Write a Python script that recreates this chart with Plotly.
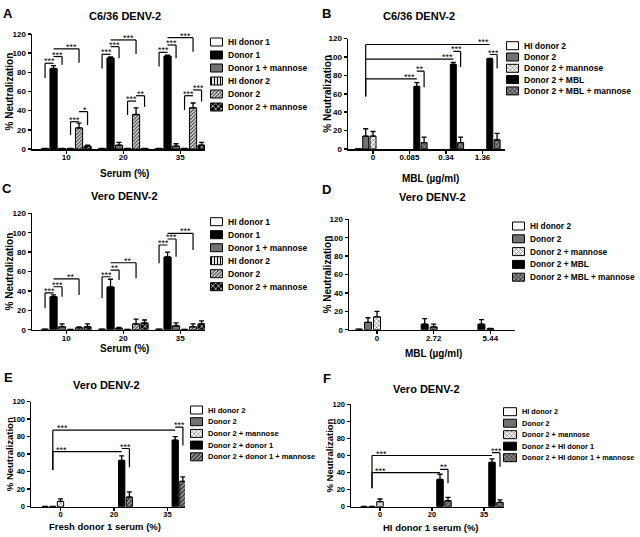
import plotly.graph_objects as go

W, H = 640, 537
FONT = "Liberation Sans, Arial, Helvetica, sans-serif"

# ---------------- data ----------------
Y_TICKS = [0, 20, 40, 60, 80, 100, 120]

A_groups = ["10", "20", "35"]
A_series = ["HI donor 1", "Donor 1", "Donor 1 + mannose", "HI donor 2", "Donor 2", "Donor 2 + mannose"]
A_values = [[0.5, 0.5, 0.5], [84, 95, 97], [0.5, 4, 3], [0.5, 0.5, 0.5], [22, 36, 43], [3, 0.5, 4]]
A_errors = [[None, None, None], [3, 1, 1], [None, 3, 2.5], [None, None, None], [5, 7, 5], [1, None, 3]]
# (group1, bar1, group2, bar2, level, left leg end, right leg end, label, label position)
A_sig = [
    (0, 0, 0, 1, 89.5, 74, None, "***", 0.5), (0, 1, 0, 2, 96.5, None, 88, "***", 0.5),
    (0, 1, 0, 4, 104.5, None, 90, "***", 0.7), (0, 3, 0, 4, 28.5, 14.5, None, "***", 0.5),
    (0, 4, 0, 5, 39, None, 25, "*", 0.75),
    (1, 0, 1, 1, 98.8, 84, None, "***", 0.5), (1, 1, 1, 2, 106.8, None, 94.6, "***", 0.5),
    (1, 1, 1, 4, 113.8, None, 99, "***", 0.7), (1, 3, 1, 4, 50, 35.5, None, "***", 0.5),
    (1, 4, 1, 5, 55.6, None, 44, "**", 0.6),
    (2, 0, 2, 1, 100.9, 86, None, "***", 0.5), (2, 1, 2, 2, 108.5, None, 94.6, "***", 0.5),
    (2, 1, 2, 4, 116.2, None, 101.6, "***", 0.7), (2, 3, 2, 4, 55.6, 40.7, None, "***", 0.5),
    (2, 4, 2, 5, 61.6, None, 49.4, "***", 0.6),
]

B_groups = ["0", "0.085", "0.34", "1.36"]
B_series = ["HI donor 2", "Donor 2", "Donor 2 + mannose", "Donor 2 + MBL", "Donor 2 + MBL + mannose"]
B_values = [[0.5, None, None, None], [14, None, None, None], [14, None, None, None],
            [None, 68, 92, 98], [None, 7, 7, 10]]
B_errors = [[None, None, None, None], [8, None, None, None], [5, None, None, None],
            [None, 4, 2, 0.5], [None, 6, 6, 7]]
B_sig = [
    (0, 1, 1, 3, 76.2, 57, None, "***", 0.85), (0, 1, 2, 3, 97.6, None, None, "***", 0.93),
    (0, 1, 3, 3, 113.5, 57, None, "***", 0.95), (1, 3, 1, 4, 84.5, None, 67, "**", 0.5),
    (2, 3, 2, 4, 106, None, 89, "***", 0.5), (3, 3, 3, 4, 102.6, None, 87.5, "***", 0.5),
]

C_groups = ["10", "20", "35"]
C_series = A_series
C_values = [[0.5, 0.5, 0.5], [34, 44, 75], [3, 1.5, 4], [0.3, 0.3, 0.3], [2, 6, 3], [3, 7, 6]]
C_errors = [[None, None, None], [2, 8, 5], [3, 1, 3], [None, None, None], [1, 5, 3], [3, 3, 3]]
C_sig = [
    (0, 0, 0, 1, 38, 22, None, "***", 0.5), (0, 1, 0, 2, 44.3, None, 34, "***", 0.5),
    (0, 1, 0, 4, 52.3, None, 35.8, "**", 0.7),
    (1, 0, 1, 1, 54.6, 32.3, None, "***", 0.5), (1, 1, 1, 2, 61.5, None, 51.2, "**", 0.5),
    (1, 1, 1, 4, 69, None, 53, "**", 0.7),
    (2, 0, 2, 1, 87.3, 68.4, None, "***", 0.5), (2, 1, 2, 2, 93.5, None, 75.3, "***", 0.5),
    (2, 1, 2, 4, 99.4, None, 82.2, "***", 0.7),
]

D_groups = ["0", "2.72", "5.44"]
D_series = B_series
D_values = [[0.5, None, None], [8, None, None], [14, None, None], [None, 6, 6], [None, 3, 1]]
D_errors = [[None, None, None], [5, None, None], [6, None, None], [None, 6, 5], [None, 3, 0.5]]
D_sig = []

E_groups = ["0", "20", "35"]
E_series = ["HI donor 2", "Donor 2", "Donor 2 + mannose", "Donor 2 + donor 1", "Donor 2 + donor 1 + mannose"]
E_values = [[0.3, None, None], [0.3, None, None], [6, None, None], [None, 53, 76], [None, 11, 29]]
E_errors = [[None, None, None], [None, None, None], [3, None, None], [None, 5, 4], [None, 6, 5]]
E_sig = [
    (0, 1, 1, 3, 63, 42, None, "***", 0.12), (0, 1, 2, 3, 87.5, 42, None, "***", 0.08),
    (1, 3, 1, 4, 66.5, None, 45, "***", 0.5), (2, 3, 2, 4, 91, None, 70, "***", 0.5),
]

F_groups = ["0", "20", "35"]
F_series = ["HI donor 2", "Donor 2", "Donor 2 + mannose", "Donor 2 + HI donor 1", "Donor 2 + HI donor 1 + mannose"]
F_values = [[0.3, None, None], [0.3, None, None], [6, None, None], [None, 32, 52], [None, 7, 5]]
F_errors = [[None, None, None], [None, None, None], [3, None, None], [None, 6, 4], [None, 4, 3]]
F_sig = [
    (0, 1, 1, 3, 40, 21.5, None, "***", 0.12), (0, 1, 2, 3, 60, 21.5, None, "***", 0.08),
    (1, 3, 1, 4, 43.8, None, 27.4, "**", 0.5), (2, 3, 2, 4, 63.3, None, 46.9, "***", 0.5),
]

# ---------------- styles ----------------
STYLE = {
    "white": dict(bg="white", fg="black", shape="", size=4, sol=0.3),
    "black": dict(bg="black", fg="black", shape="", size=4, sol=0.3),
    "gray": dict(bg="#727272", fg="black", shape="", size=4, sol=0.3),
    "vstripe": dict(bg="white", fg="black", shape="|", size=3, sol=0.4),
    "hatch": dict(bg="#f2f2f2", fg="#333333", shape="/", size=2.5, sol=0.45),
    "check_dark": dict(bg="black", fg="white", shape="x", size=4, sol=0.3),
    "check_light": dict(bg="white", fg="#444444", shape="x", size=3, sol=0.3),
    "check_mid": dict(bg="#8a8a8a", fg="black", shape="x", size=3, sol=0.3),
    "hatch_gray": dict(bg="#9a9a9a", fg="#222222", shape="/", size=3, sol=0.4),
}

A_styles = ["white", "black", "gray", "vstripe", "hatch", "check_dark"]
B_styles = ["white", "gray", "check_light", "black", "check_mid"]
E_styles = ["white", "gray", "check_light", "black", "hatch_gray"]
F_styles = ["white", "gray", "check_light", "black", "check_mid"]

# pixel geometry of each panel
PANELS = [
    dict(groups=A_groups, series=A_series, values=A_values, errors=A_errors, sig=A_sig, styles=A_styles,
         letter="A", title="C6/36 DENV-2", xtitle="Serum (%)",
         x0=32, x1=205, ytop=34, ybot=149, c0=66.3, S=57, slot=8.5, bw=7.2,
         slotpos=[-2.5, -1.5, -0.5, 0.5, 1.5, 2.5], fs=8,
         tpos=(125, 16), lpos=(8, 14), xtpos=(124, 173), ytx=9,
         leg=dict(x0=210, x1=223, top=42, step=13, h=8, fs=8.5)),
    dict(groups=B_groups, series=B_series, values=B_values, errors=B_errors, sig=B_sig, styles=B_styles,
         letter="B", title="C6/36 DENV-2", xtitle="MBL (\u00b5g/ml)",
         x0=348, x1=505, ytop=38.5, ybot=149, c0=373, S=36.5, slot=7.3, bw=6,
         slotpos=[-2, -1, 0, 1, 2], fs=8,
         tpos=(419, 16), lpos=(326, 14), xtpos=(430, 178), ytx=328,
         leg=dict(x0=506, x1=519, top=45.7, step=11.3, h=8, fs=8.5)),
    dict(groups=C_groups, series=C_series, values=C_values, errors=C_errors, sig=C_sig, styles=A_styles,
         letter="C", title="Vero DENV-2", xtitle="Serum (%)",
         x0=32, x1=205, ytop=213.3, ybot=329.7, c0=66.3, S=57, slot=8.5, bw=7.2,
         slotpos=[-2.5, -1.5, -0.5, 0.5, 1.5, 2.5], fs=8,
         tpos=(124, 196.5), lpos=(7, 188), xtpos=(124, 348), ytx=9,
         leg=dict(x0=210, x1=223, top=221.7, step=13, h=8, fs=8.5)),
    dict(groups=D_groups, series=D_series, values=D_values, errors=D_errors, sig=D_sig, styles=B_styles,
         letter="D", title="Vero DENV-2", xtitle="MBL (\u00b5g/ml)",
         x0=349, x1=515, ytop=219.3, ybot=329.7, c0=377, S=56.7, slot=9, bw=7,
         slotpos=[-2, -1, 0, -1, 0], fs=8,
         tpos=(432, 197.5), lpos=(326, 190), xtpos=(433, 353), ytx=327,
         leg=dict(x0=512, x1=525, top=226, step=12.8, h=8, fs=8.3)),
    dict(groups=E_groups, series=E_series, values=E_values, errors=E_errors, sig=E_sig, styles=E_styles,
         letter="E", title="Vero DENV-2", xtitle="Fresh donor 1 serum (%)",
         x0=31, x1=185, ytop=401.7, ybot=506.7, c0=60.5, S=53.5, slot=7.7, bw=6.3,
         slotpos=[-2, -1, 0, 1, 2], fs=7.5,
         tpos=(106, 385), lpos=(8, 377), xtpos=(105, 526), ytx=9,
         leg=dict(x0=190, x1=203, top=410, step=11.7, h=8, fs=7.6)),
    dict(groups=F_groups, series=F_series, values=F_values, errors=F_errors, sig=F_sig, styles=F_styles,
         letter="F", title="Vero DENV-2", xtitle="HI donor 1 serum (%)",
         x0=351, x1=504, ytop=404.3, ybot=506.7, c0=380, S=52, slot=8, bw=6.5,
         slotpos=[-2, -1, 0, 1, 2], fs=7.5,
         tpos=(426, 389), lpos=(327, 378), xtpos=(431, 527), ytx=329,
         leg=dict(x0=503, x1=517, top=411.7, step=11.5, h=8, fs=7.3)),
]


def tfont(size, bold=True):
    return dict(family=FONT, size=size, color="black", weight="bold" if bold else "normal")


def marker_of(style_name):
    st = STYLE[style_name]
    return dict(color=st["bg"], line=dict(color="black", width=1),
                pattern=dict(shape=st["shape"], fgcolor=st["fg"], bgcolor=st["bg"],
                             size=st["size"], solidity=st["sol"], fillmode="replace"))


fig = go.Figure()
layout = dict(template="none", width=W, height=H, margin=dict(l=0, r=0, t=0, b=0),
              paper_bgcolor="white", plot_bgcolor="rgba(0,0,0,0)", showlegend=False,
              barmode="overlay", font=dict(family=FONT, color="black"))
annotations = []
shapes = []

for k, p in enumerate(PANELS, start=1):
    xr, yr = ("x", "y") if k == 1 else (f"x{k}", f"y{k}")
    xk, yk = ("xaxis", "yaxis") if k == 1 else (f"xaxis{k}", f"yaxis{k}")
    lk = k + 6
    lxr, lyr, lxk, lyk = f"x{lk}", f"y{lk}", f"xaxis{lk}", f"yaxis{lk}"

    S = p["S"]
    lo = -(p["c0"] - p["x0"]) / S
    hi = (p["x1"] - p["c0"]) / S
    slot_u = p["slot"] / S
    bw_u = p["bw"] / S
    groups = p["groups"]
    xs = list(range(len(groups)))

    layout[xk] = dict(domain=[p["x0"] / W, p["x1"] / W], range=[lo, hi], anchor=yr, automargin=False,
                      showline=True, linecolor="black", linewidth=1.5, ticks="outside", ticklen=3,
                      tickwidth=1.5, tickcolor="black", tickvals=xs, ticktext=groups,
                      ticklabelstandoff=-3,
                      showgrid=False, zeroline=False, tickfont=tfont(p["fs"]), fixedrange=True)
    layout[yk] = dict(domain=[1 - p["ybot"] / H, 1 - p["ytop"] / H], range=[0, 120], anchor=xr,
                      automargin=False,
                      showline=True, linecolor="black", linewidth=1.5, ticks="outside", ticklen=3,
                      tickwidth=1.5, tickcolor="black", tickvals=Y_TICKS,
                      showgrid=False, zeroline=False, tickfont=tfont(p["fs"]), fixedrange=True)

    for i, name in enumerate(p["series"]):
        c = p["slotpos"][i] * slot_u
        errs = p["errors"][i]
        fig.add_trace(go.Bar(
            x=xs, y=p["values"][i], offset=c - bw_u / 2, width=bw_u, name=name,
            xaxis=xr, yaxis=yr, showlegend=False, marker=marker_of(p["styles"][i]),
            error_y=dict(type="data", symmetric=False, array=errs, arrayminus=[0] * len(errs),
                         color="black", thickness=1.3, width=2.5),
        ))

    def bx(gi, si, p=p, slot_u=slot_u):
        return gi + p["slotpos"][si] * slot_u

    for (g1, s1, g2, s2, yv, lb, rb, txt, pos) in p["sig"]:
        xa_, xb_ = bx(g1, s1), bx(g2, s2)
        ln = dict(color="black", width=1.2)
        shapes.append(dict(type="line", xref=xr, yref=yr, x0=xa_, x1=xb_, y0=yv, y1=yv, line=ln))
        if lb is not None:
            shapes.append(dict(type="line", xref=xr, yref=yr, x0=xa_, x1=xa_, y0=lb, y1=yv, line=ln))
        if rb is not None:
            shapes.append(dict(type="line", xref=xr, yref=yr, x0=xb_, x1=xb_, y0=rb, y1=yv, line=ln))
        annotations.append(dict(xref=xr, yref=yr, x=xa_ + pos * (xb_ - xa_), y=yv, text=txt,
                                showarrow=False, yanchor="bottom", yshift=-5,
                                font=tfont(9, False)))

    # legend key: swatches on their own small axes, names as tick labels
    lg = p["leg"]
    n = len(p["series"])
    layout[lxk] = dict(domain=[lg["x0"] / W, lg["x1"] / W], range=[-0.04, 1.04], visible=False,
                       anchor=lyr, fixedrange=True, automargin=False)
    layout[lyk] = dict(domain=[1 - (lg["top"] + (n - 0.5) * lg["step"]) / H,
                               1 - (lg["top"] - 0.5 * lg["step"]) / H],
                       type="category", categoryorder="array", categoryarray=p["series"],
                       autorange="reversed", side="right", anchor=lxr, showline=False, ticks="",
                       showgrid=False, zeroline=False, tickfont=tfont(lg["fs"]), ticklabelstandoff=4,
                       fixedrange=True, automargin=False)
    for i, name in enumerate(p["series"]):
        fig.add_trace(go.Bar(orientation="h", y=[name], x=[1], width=lg["h"] / lg["step"],
                             xaxis=lxr, yaxis=lyr, showlegend=False, hoverinfo="skip",
                             marker=marker_of(p["styles"][i])))

    # texts
    small = p["fs"] < 8
    annotations.append(dict(xref="paper", yref="paper", x=p["tpos"][0] / W, y=1 - p["tpos"][1] / H,
                            text=p["title"], showarrow=False, xanchor="center", yanchor="middle",
                            font=tfont(11)))
    annotations.append(dict(xref="paper", yref="paper", x=p["lpos"][0] / W, y=1 - p["lpos"][1] / H,
                            text=p["letter"], showarrow=False, xanchor="center", yanchor="middle",
                            font=tfont(13)))
    annotations.append(dict(xref="paper", yref="paper", x=p["xtpos"][0] / W, y=1 - p["xtpos"][1] / H,
                            text=p["xtitle"], showarrow=False, xanchor="center", yanchor="middle",
                            borderpad=0, font=tfont(9.5 if small else 10)))
    annotations.append(dict(xref="paper", yref="paper", x=p["ytx"] / W,
                            y=1 - (p["ytop"] + p["ybot"]) / 2 / H,
                            text="% Neutralization", showarrow=False, textangle=-90,
                            xanchor="center", yanchor="middle", borderpad=0,
                            font=tfont(9.5 if small else 10)))

layout["annotations"] = annotations
layout["shapes"] = shapes
fig.update_layout(**layout)
fig.write_html(
    "out.html", config={"displayModeBar": False, "staticPlot": True},
    post_script="document.body.style.margin='0';document.body.style.overflow='hidden';",
)
